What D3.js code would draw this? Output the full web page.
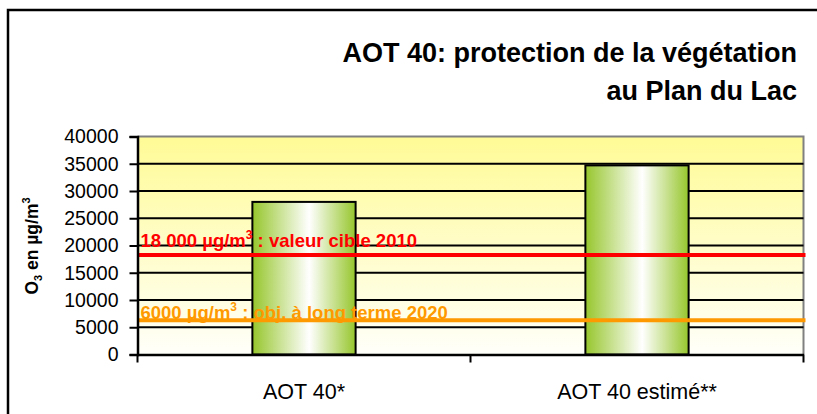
<!DOCTYPE html>
<html>
<head>
<meta charset="utf-8">
<script src="https://cdn.jsdelivr.net/npm/d3@7/dist/d3.min.js"></script>
<style>
  html, body { margin: 0; padding: 0; background: #fff; }
  svg { display: block; font-family: "Liberation Sans", Arial, sans-serif; }
</style>
</head>
<body>
<svg id="chart" width="817" height="414"></svg>
<script>
// ---- data ----
const categories = ["AOT 40*", "AOT 40 estimé**"];
const values = [28000, 34700];
const yTicks = [0, 5000, 10000, 15000, 20000, 25000, 30000, 35000, 40000];
const refValues = [18000, 6000];
const refLabels = ["18 000 µg/m", "6000 µg/m"];
const refSuffix = [" : valeur cible 2010", " : obj. à long terme 2020"];
const refColors = ["#ff0000", "#ff9900"];
const titleLines = ["AOT 40: protection de la végétation", "au Plan du Lac"];

const svg = d3.select("#chart");
const m = { left: 137.5, right: 803.5, top: 136.5, bottom: 354.5 };
const labelOffsets = [9, 3];

// outer frame
svg.append("rect").attr("x", 8).attr("y", 10).attr("width", 830).attr("height", 430)
  .attr("fill", "#fff").attr("stroke", "#000").attr("stroke-width", 2.5);

const defs = svg.append("defs");
const bg = defs.append("linearGradient").attr("id", "bg").attr("x1", 0).attr("y1", 0).attr("x2", 0).attr("y2", 1);
bg.append("stop").attr("offset", "0%").attr("stop-color", "#fffb96");
bg.append("stop").attr("offset", "100%").attr("stop-color", "#fffffa");

const bar = defs.append("linearGradient").attr("id", "bar").attr("x1", 0).attr("y1", 0).attr("x2", 1).attr("y2", 0);
bar.append("stop").attr("offset", "0%").attr("stop-color", "#96c62c");
bar.append("stop").attr("offset", "55%").attr("stop-color", "#ffffff");
bar.append("stop").attr("offset", "100%").attr("stop-color", "#96c62c");

const x = d3.scaleBand().domain(categories).range([m.left, m.right]).paddingInner(0).paddingOuter(0);
const y = d3.scaleLinear().domain([0, 40000]).range([m.bottom, m.top]);

// plot background
svg.append("rect").attr("x", m.left).attr("y", m.top)
  .attr("width", m.right - m.left).attr("height", m.bottom - m.top)
  .attr("fill", "url(#bg)");
// grey top/right border
svg.append("path")
  .attr("d", `M${m.left},${m.top}H${m.right}V${m.bottom}`)
  .attr("fill", "none").attr("stroke", "#808080").attr("stroke-width", 2);

// gridlines
svg.append("g").selectAll("line").data(yTicks.filter(d => d > 0 && d < 40000)).join("line")
  .attr("x1", m.left).attr("x2", m.right)
  .attr("y1", d => y(d)).attr("y2", d => y(d))
  .attr("stroke", "#000").attr("stroke-width", 2);

// bars
const bw = x.bandwidth() * 0.31;
svg.append("g").selectAll("rect").data(values).join("rect")
  .attr("x", (d, i) => x(categories[i]) + x.bandwidth() / 2 - bw / 2)
  .attr("y", d => y(d))
  .attr("width", bw)
  .attr("height", d => y(0) - y(d))
  .attr("fill", "url(#bar)")
  .attr("stroke", "#000").attr("stroke-width", 2);

// reference lines + labels
refValues.forEach((v, i) => {
  const t = svg.append("text")
    .attr("x", m.left + 3).attr("y", y(v) - labelOffsets[i])
    .attr("fill", refColors[i]).attr("font-weight", "bold").attr("font-size", 18.5);
  t.append("tspan").text(refLabels[i]);
  t.append("tspan").text("3").attr("font-size", 12).attr("dy", -8);
  t.append("tspan").text(refSuffix[i]).attr("dy", 8);
  svg.append("line")
    .attr("x1", m.left).attr("x2", m.right + 2)
    .attr("y1", y(v) - 1.5).attr("y2", y(v) - 1.5)
    .attr("stroke", refColors[i]).attr("stroke-width", 4);
});

// y axis
const ya = svg.append("g").attr("transform", `translate(${m.left},0)`)
  .call(d3.axisLeft(y).tickValues(yTicks).tickFormat(d3.format("d")).tickSize(8).tickPadding(11));
ya.select(".domain").attr("stroke", "#000").attr("stroke-width", 2.5);
ya.selectAll(".tick line").attr("stroke", "#000").attr("stroke-width", 2);
ya.selectAll(".tick text").attr("font-size", 19.5).attr("fill", "#000")
  .attr("font-family", "'Liberation Sans', Arial, sans-serif");

// x axis
const xa = svg.append("g").attr("transform", `translate(0,${m.bottom})`)
  .call(d3.axisBottom(x).tickSize(0).tickPadding(29));
xa.select(".domain").attr("stroke", "#000").attr("stroke-width", 2.5);
xa.selectAll(".tick text").attr("font-size", 21.5).attr("fill", "#000")
  .attr("font-family", "'Liberation Sans', Arial, sans-serif");
// x tick marks at band edges
const edges = [m.left, x(categories[1]), m.right];
svg.append("g").selectAll("line").data(edges).join("line")
  .attr("x1", d => d).attr("x2", d => d)
  .attr("y1", m.bottom).attr("y2", m.bottom + 8)
  .attr("stroke", "#000").attr("stroke-width", 2);

// y axis title
const yt = svg.append("text")
  .attr("transform", `translate(38,246) rotate(-90)`)
  .attr("text-anchor", "middle").attr("font-weight", "bold").attr("font-size", 17.5).attr("fill", "#000");
yt.append("tspan").text("O");
yt.append("tspan").text("3").attr("font-size", 11).attr("dy", 4);
yt.append("tspan").text(" en µg/m").attr("dy", -4);
yt.append("tspan").text("3").attr("font-size", 11).attr("dy", -8);

// title
svg.append("g").selectAll("text").data(titleLines).join("text")
  .attr("x", 797).attr("y", (d, i) => 62 + i * 38)
  .attr("text-anchor", "end").attr("font-weight", "bold").attr("font-size", 27)
  .attr("fill", "#000").text(d => d);
</script>
</body>
</html>
